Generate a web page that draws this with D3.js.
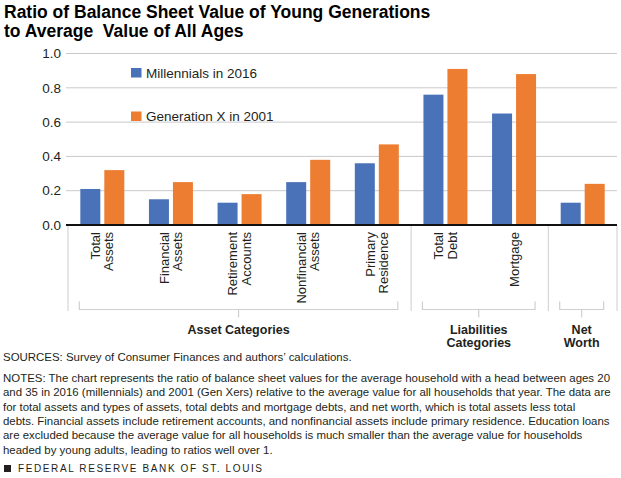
<!DOCTYPE html>
<html>
<head>
<meta charset="utf-8">
<script src="https://cdn.jsdelivr.net/npm/d3@7"></script>
<style>
  body { margin: 0; background: #fff; }
  svg { display: block; font-family: "Liberation Sans", Arial, sans-serif; }
  .tick-label { font-size: 13.5px; fill: #231f20; }
  .cat-label { font-size: 13px; fill: #231f20; }
  .group-label { font-size: 12.5px; font-weight: bold; fill: #231f20; }
  .note { font-size: 11.45px; fill: #231f20; }
</style>
</head>
<body>
<svg id="chart" width="621" height="478"></svg>
<script>
// Data
const categories = ['Total Assets', 'Financial Assets', 'Retirement Accounts', 'Nonfinancial Assets',
  'Primary Residence', 'Total Debt', 'Mortgage', 'Net Worth'];
const catLines = [['Total', 'Assets'], ['Financial', 'Assets'], ['Retirement', 'Accounts'],
  ['Nonfinancial', 'Assets'], ['Primary', 'Residence'], ['Total', 'Debt'], ['Mortgage'], []];
const seriesNames = ['Millennials in 2016', 'Generation X in 2001'];
const millennials = [0.21, 0.15, 0.13, 0.25, 0.36, 0.76, 0.65, 0.13];
const genX = [0.32, 0.25, 0.18, 0.38, 0.47, 0.91, 0.88, 0.24];
const yTicks = [0, 0.2, 0.4, 0.6, 0.8, 1.0];
const groups = [
  { name: ['Asset Categories'], from: 0, to: 4 },
  { name: ['Liabilities', 'Categories'], from: 5, to: 6 },
  { name: ['Net', 'Worth'], from: 7, to: 7 }
];
const colors = ['#4a72b8', '#ed7d31'];

const svg = d3.select('#chart');

// Title
svg.append('text')
  .attr('x', 4).attr('y', 18)
  .style('font-size', '17.5px').style('font-weight', 'bold').style('fill', '#000')
  .selectAll('tspan')
  .data(['Ratio of Balance Sheet Value of Young Generations', 'to Average  Value of All Ages'])
  .enter().append('tspan')
  .attr('x', 4)
  .attr('dy', (d, i) => i ? 19 : 0)
  .style('white-space', 'pre')
  .text(d => d);

// Scales
let left = 68, right = 617;
let x = d3.scaleBand().domain(categories).range([left, right]).padding(0);
let xInner = d3.scaleBand().domain(seriesNames).range([-22, 22]).paddingInner(4 / 24);
let y = d3.scaleLinear().domain([0, 1]).range([225, 53.5]);

// Gridlines + y labels
svg.append('g').selectAll('line')
  .data(yTicks.filter(d => d > 0))
  .enter().append('line')
  .attr('x1', 66).attr('x2', right)
  .attr('y1', d => y(d)).attr('y2', d => y(d))
  .attr('stroke', '#c9c9c9').attr('stroke-width', 1);

svg.append('g').selectAll('text')
  .data(yTicks)
  .enter().append('text')
  .attr('class', 'tick-label')
  .attr('x', 61).attr('y', d => y(d))
  .attr('dy', '0.35em')
  .attr('text-anchor', 'end')
  .text(d => d3.format('.1f')(d));

// Bars
const series = [millennials, genX];
series.forEach((vals, s) => {
  svg.append('g').selectAll('rect')
    .data(vals)
    .enter().append('rect')
    .attr('x', (d, i) => x(categories[i]) + x.bandwidth() / 2 + xInner(seriesNames[s]))
    .attr('width', xInner.bandwidth())
    .attr('y', d => y(d))
    .attr('height', d => y(0) - y(d))
    .attr('fill', colors[s]);
});

// Baseline
svg.append('line')
  .attr('x1', 66).attr('x2', right)
  .attr('y1', y(0)).attr('y2', y(0))
  .attr('stroke', '#111').attr('stroke-width', 2);

// Separators
const sepIdx = [0, 5, 7, 8];
svg.append('g').selectAll('line')
  .data(sepIdx)
  .enter().append('line')
  .attr('x1', d => left + d * x.step()).attr('x2', d => left + d * x.step())
  .attr('y1', y(0) + 1).attr('y2', 311)
  .attr('stroke', '#d6d6d6').attr('stroke-width', 1.2);

// Category labels (rotated)
const catG = svg.append('g').selectAll('g')
  .data(categories)
  .enter().append('g')
  .attr('transform', d => `translate(${x(d) + x.bandwidth() / 2},232) rotate(-90)`);

catG.each(function (d, i) {
  const lines = catLines[i];
  const n = lines.length;
  d3.select(this).selectAll('text')
    .data(lines)
    .enter().append('text')
    .attr('class', 'cat-label')
    .attr('text-anchor', 'end')
    .attr('x', 0)
    .attr('y', (l, j) => 4.5 + (j - (n - 1) / 2) * 13.3)
    .text(l => l);
});

// Brackets
const cx = i => x(categories[i]) + x.bandwidth() / 2;
const brG = svg.append('g').attr('fill', 'none').attr('stroke', '#cfcfcf').attr('stroke-width', 1.2);
groups.forEach(g => {
  let x0 = cx(g.from) - 23, x1 = cx(g.to) + 21, mid = (x0 + x1) / 2;
  brG.append('path')
    .attr('d', `M${x0},301.5V309.5H${x1}V301.5M${mid},309.5V317.5`);
  svg.append('text')
    .attr('class', 'group-label')
    .attr('text-anchor', 'middle')
    .selectAll('tspan')
    .data(g.name)
    .enter().append('tspan')
    .attr('x', mid)
    .attr('y', (d, j) => 334 + j * 13)
    .text(d => d);
});

// Legend
const legend = svg.append('g').attr('transform', 'translate(131,68)');
seriesNames.forEach((s, i) => {
  legend.append('rect')
    .attr('x', 0).attr('y', i * 43.5)
    .attr('width', 10.5).attr('height', 9.5)
    .attr('fill', colors[i]);
  legend.append('text')
    .attr('x', 15).attr('y', i * 43.5 + 5)
    .attr('dy', '0.35em')
    .style('font-size', '13.5px').style('fill', '#231f20')
    .text(s);
});

// Notes
const notes = [
  'SOURCES: Survey of Consumer Finances and authors\u2019 calculations.',
  'NOTES: The chart represents the ratio of balance sheet values for the average household with a head between ages 20',
  'and 35 in 2016 (millennials) and 2001 (Gen Xers) relative to the average value for all households that year. The data are',
  'for total assets and types of assets, total debts and mortgage debts, and net worth, which is total assets less total',
  'debts. Financial assets include retirement accounts, and nonfinancial assets include primary residence. Education loans',
  'are excluded because the average value for all households is much smaller than the average value for households',
  'headed by young adults, leading to ratios well over 1.'
];
const noteY = [361, 382, 396.3, 410.6, 424.9, 439.2, 453.5];
svg.append('g').selectAll('text')
  .data(notes)
  .enter().append('text')
  .attr('class', 'note')
  .attr('x', 3)
  .attr('y', (d, i) => noteY[i])
  .text(d => d);

// Footer
svg.append('rect').attr('x', 4).attr('y', 465).attr('width', 7).attr('height', 7).attr('fill', '#231f20');
svg.append('text')
  .attr('x', 18).attr('y', 472)
  .style('font-size', '10px').style('letter-spacing', '1.6px').style('fill', '#231f20')
  .text('FEDERAL RESERVE BANK OF ST. LOUIS');
</script>
</body>
</html>
